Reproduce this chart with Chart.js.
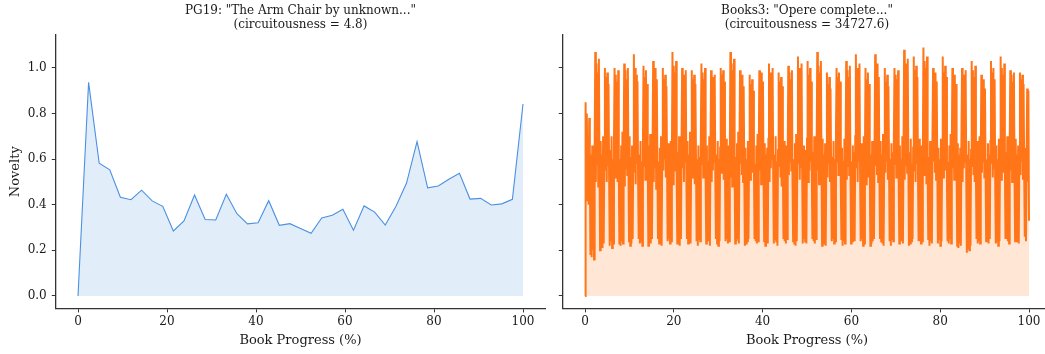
<!DOCTYPE html>
<html>
<head>
<meta charset="utf-8">
<script src="https://cdn.jsdelivr.net/npm/chart.js@4.4.1/dist/chart.umd.min.js"></script>
<style>
  html, body { margin: 0; padding: 0; background: #fff; overflow: hidden; width: 1045px; height: 354px; }
  #wrap { position: relative; width: 1045px; height: 354px; overflow: hidden; }
  .box { position: absolute; top: 0; height: 354px; }
</style>
</head>
<body>
<div id="wrap">
  <div class="box" id="boxL" style="left:0;width:560px;"><canvas id="cL"></canvas></div>
  <div class="box" id="boxR" style="left:500px;width:560px;"><canvas id="cR"></canvas></div>
</div>
<script>
// ---------- DATA ----------
const leftTitle = ['PG19: "The Arm Chair by unknown..."', '(circuitousness = 4.8)'];
const rightTitle = ['Books3: "Opere complete..."', '(circuitousness = 34727.6)'];
const xAxisLabel = 'Book Progress (%)';
const yAxisLabel = 'Novelty';
const xTicks = [0, 20, 40, 60, 80, 100];
const yTicks = [0.0, 0.2, 0.4, 0.6, 0.8, 1.0];

// PG19 novelty (43 evenly spaced samples across 0-100%)
const pg19Novelty = [
  0.00, 0.937, 0.582, 0.553, 0.433, 0.422, 0.464, 0.417, 0.393, 0.285,
  0.329, 0.443, 0.335, 0.333, 0.446, 0.361, 0.316, 0.321, 0.418, 0.310,
  0.317, 0.296, 0.275, 0.342, 0.354, 0.380, 0.288, 0.395, 0.368, 0.311,
  0.392, 0.494, 0.677, 0.474, 0.482, 0.512, 0.538, 0.425, 0.428, 0.399,
  0.404, 0.424, 0.842
];

// Books3 novelty (dense samples evenly spaced across 0-100%)
const books3Novelty = [
  0.00,
  0.85,0.42,0.80,0.55,0.70,0.40,0.78,0.60, 0.18,0.62,0.17,0.66,0.20,0.58,0.16,0.64,
  1.07,0.50,1.02,0.58,0.98,0.48,1.04,0.60, 0.20,0.68,0.22,0.62,0.21,0.70,0.23,0.60,
  1.00,0.55,0.96,0.50,0.98,0.57,0.93,0.52, 0.22,0.64,0.24,0.70,0.21,0.60,0.23,0.66,
  1.00,0.52,0.97,0.60,0.94,0.50,0.99,0.56, 0.23,0.60,0.22,0.66,0.24,0.72,0.23,0.58,
  1.02,0.48,0.99,0.56,0.95,0.53,1.00,0.58, 0.24,0.70,0.22,0.61,0.23,0.66,0.25,0.62,
  1.06,0.54,1.00,0.49,0.97,0.58,0.94,0.52, 0.25,0.62,0.23,0.68,0.24,0.59,0.22,0.65,
  1.01,0.57,0.96,0.51,0.99,0.55,0.93,0.60, 0.22,0.66,0.24,0.71,0.23,0.60,0.25,0.64,
  1.03,0.50,0.98,0.56,1.00,0.47,0.95,0.58, 0.25,0.59,0.23,0.65,0.24,0.70,0.22,0.61,
  1.00,0.55,0.95,0.60,0.97,0.52,0.92,0.57, 0.24,0.67,0.25,0.61,0.23,0.68,0.24,0.58,
  1.07,0.49,1.01,0.55,0.98,0.58,1.03,0.51, 0.23,0.63,0.24,0.70,0.22,0.60,0.25,0.66,
  1.00,0.56,0.97,0.50,0.94,0.59,0.99,0.54, 0.25,0.68,0.23,0.62,0.24,0.72,0.23,0.60,
  0.99,0.52,0.95,0.57,0.97,0.49,0.93,0.60, 0.24,0.60,0.22,0.66,0.25,0.61,0.24,0.69,
  1.02,0.58,0.98,0.52,0.95,0.56,1.00,0.50, 0.23,0.66,0.25,0.59,0.24,0.70,0.22,0.63,
  0.99,0.50,0.96,0.55,0.93,0.59,0.97,0.53, 0.25,0.62,0.23,0.68,0.22,0.60,0.24,0.65,
  1.00,0.54,0.97,0.60,0.99,0.51,0.94,0.57, 0.24,0.69,0.25,0.63,0.23,0.66,0.24,0.59,
  1.07,0.52,1.02,0.48,0.99,0.57,1.04,0.55, 0.23,0.61,0.24,0.67,0.25,0.72,0.23,0.60,
  0.99,0.58,0.95,0.53,0.97,0.50,0.92,0.56, 0.22,0.65,0.23,0.60,0.24,0.68,0.25,0.62,
  0.97,0.51,0.93,0.57,0.95,0.54,0.90,0.59, 0.25,0.58,0.24,0.66,0.23,0.71,0.24,0.60,
  0.99,0.55,0.96,0.49,0.98,0.58,0.94,0.52, 0.24,0.67,0.22,0.62,0.25,0.65,0.23,0.69,
  1.02,0.50,0.98,0.56,0.95,0.60,1.00,0.53, 0.23,0.62,0.25,0.70,0.24,0.59,0.22,0.64,
  0.98,0.57,0.94,0.52,0.96,0.48,0.92,0.58, 0.25,0.68,0.24,0.61,0.23,0.66,0.25,0.60,
  1.01,0.53,0.98,0.59,0.95,0.55,0.99,0.50, 0.24,0.60,0.23,0.67,0.22,0.71,0.24,0.62,
  1.05,0.58,1.00,0.51,0.97,0.56,1.02,0.54, 0.23,0.66,0.25,0.60,0.24,0.64,0.23,0.69,
  1.03,0.50,0.97,0.55,1.00,0.59,0.94,0.52, 0.25,0.63,0.24,0.70,0.23,0.58,0.25,0.65,
  1.07,0.55,1.01,0.49,0.98,0.57,1.03,0.60, 0.22,0.69,0.23,0.62,0.24,0.67,0.22,0.60,
  0.98,0.52,0.93,0.58,0.96,0.50,0.91,0.55, 0.24,0.61,0.25,0.68,0.23,0.60,0.24,0.71,
  1.00,0.59,0.96,0.53,0.98,0.56,0.94,0.50, 0.25,0.65,0.22,0.59,0.24,0.69,0.23,0.62,
  1.03,0.51,0.99,0.57,0.96,0.53,1.01,0.58, 0.23,0.59,0.24,0.66,0.25,0.63,0.24,0.70,
  1.06,0.56,1.00,0.50,0.97,0.59,1.02,0.54, 0.24,0.67,0.25,0.61,0.22,0.70,0.23,0.60,
  1.00,0.49,0.95,0.56,0.98,0.52,0.93,0.58, 0.22,0.62,0.23,0.68,0.24,0.60,0.25,0.66,
  1.06,0.57,0.99,0.53,1.02,0.50,0.96,0.55, 0.25,0.68,0.24,0.62,0.23,0.71,0.22,0.59,
  1.00,0.54,0.94,0.59,0.97,0.51,0.92,0.57, 0.24,0.60,0.22,0.67,0.25,0.63,0.24,0.69,
  1.00,0.58,0.97,0.52,0.95,0.56,0.99,0.50, 0.23,0.66,0.25,0.60,0.24,0.70,0.23,0.62,
  1.08,0.51,1.02,0.57,0.99,0.54,1.04,0.59, 0.22,0.63,0.23,0.69,0.24,0.58,0.25,0.65,
  1.05,0.55,0.99,0.50,1.01,0.58,0.96,0.53, 0.24,0.69,0.24,0.61,0.23,0.66,0.24,0.60,
  1.09,0.53,1.03,0.59,1.00,0.49,1.05,0.56, 0.25,0.61,0.22,0.68,0.24,0.62,0.23,0.70,
  1.00,0.59,0.96,0.54,0.98,0.51,0.94,0.57, 0.23,0.65,0.25,0.60,0.22,0.69,0.24,0.63,
  1.05,0.52,0.98,0.57,1.01,0.55,0.96,0.50, 0.24,0.59,0.23,0.66,0.25,0.71,0.23,0.61,
  1.00,0.56,0.95,0.51,0.97,0.58,0.93,0.54, 0.22,0.67,0.21,0.62,0.23,0.65,0.22,0.69,
  1.00,0.50,0.97,0.56,0.94,0.59,0.99,0.52, 0.19,0.62,0.21,0.68,0.20,0.60,0.22,0.64,
  1.03,0.57,0.99,0.53,0.96,0.50,1.01,0.55, 0.25,0.68,0.23,0.61,0.24,0.70,0.23,0.59,
  0.97,0.54,0.93,0.59,0.95,0.52,0.91,0.57, 0.24,0.60,0.25,0.67,0.23,0.62,0.25,0.68,
  1.03,0.58,0.98,0.52,1.00,0.56,0.95,0.50, 0.23,0.66,0.24,0.60,0.22,0.69,0.24,0.63,
  1.05,0.51,1.00,0.57,0.97,0.54,1.02,0.59, 0.25,0.63,0.25,0.70,0.24,0.59,0.23,0.65,
  0.99,0.55,0.97,0.50,0.94,0.58,0.98,0.53, 0.24,0.69,0.24,0.62,0.25,0.66,0.23,0.60,
  0.98,0.53,0.95,0.59,0.97,0.51,0.93,0.56, 0.26,0.65,0.24,0.60,0.91,0.50,0.90,0.33
];

// ---------- STYLE ----------
const FONT = "'DejaVu Serif', 'Liberation Serif', serif";
const AX = '#333333';
const TXT = '#1a1a1a';
const X_MIN = -5, X_MAX = 105, Y_MIN = -0.0545, Y_MAX = 1.1445;

function toXY(vals) {
  const n = vals.length;
  return vals.map((v, i) => ({ x: i * 100 / (n - 1), y: v }));
}

function makeChart(id, vals, line, fillc, lw, title, showYLabels, yWidth, padRight) {
  const ctx = document.getElementById(id);
  return new Chart(ctx, {
    type: 'line',
    data: {
      datasets: [{
        data: toXY(vals),
        borderColor: line,
        backgroundColor: fillc,
        borderWidth: lw,
        pointRadius: 0,
        fill: 'origin',
        tension: 0
      }]
    },
    options: {
      responsive: true,
      maintainAspectRatio: false,
      animation: false,
      events: [],
      layout: { padding: { top: 0, right: padRight, left: 0, bottom: 0 } },
      plugins: {
        legend: { display: false },
        tooltip: { enabled: false },
        title: {
          display: true,
          text: title,
          fullSize: false,
          color: TXT,
          font: { family: FONT, size: 12, weight: 'normal', lineHeight: 1.15 },
          padding: { top: 4, bottom: 3.4 }
        }
      },
      scales: {
        x: {
          type: 'linear',
          min: X_MIN, max: X_MAX,
          afterBuildTicks: s => { s.ticks = xTicks.map(v => ({ value: v })); },
          afterFit: s => { s.height = 354 - 308.4; },
          ticks: {
            color: TXT, padding: 2, maxRotation: 0,
            font: { family: FONT, size: 12 },
            callback: v => String(v)
          },
          grid: { display: true, drawOnChartArea: false, drawTicks: true, tickLength: 4, tickColor: AX, tickWidth: 1 },
          border: { display: true, color: AX, width: 1.3 },
          title: {
            display: true, text: xAxisLabel, color: TXT,
            font: { family: FONT, size: 13 },
            padding: { top: 0, bottom: 6 }
          }
        },
        y: {
          type: 'linear',
          min: Y_MIN, max: Y_MAX,
          afterBuildTicks: s => { s.ticks = yTicks.map(v => ({ value: v })); },
          afterFit: s => { s.width = yWidth; },
          ticks: {
            color: showYLabels ? TXT : 'rgba(0,0,0,0)', padding: 5,
            font: { family: FONT, size: 12 },
            callback: v => Number(v).toFixed(1)
          },
          grid: { display: true, drawOnChartArea: false, drawTicks: true, tickLength: 4, tickColor: AX, tickWidth: 1 },
          border: { display: true, color: AX, width: 1.3 },
          title: {
            display: showYLabels, text: yAxisLabel, color: TXT,
            font: { family: FONT, size: 13 },
            padding: { top: 8, bottom: 0 }
          }
        }
      }
    }
  });
}

makeChart('cL', pg19Novelty, '#4a90e2', 'rgba(74,144,226,0.16)', 1.1, leftTitle, true, 55.75, 560 - 545.25);
makeChart('cR', books3Novelty, '#ff7518', 'rgba(255,117,24,0.18)', 2.0, rightTitle, false, 62.8, 560 - 551.2);
</script>
</body>
</html>
